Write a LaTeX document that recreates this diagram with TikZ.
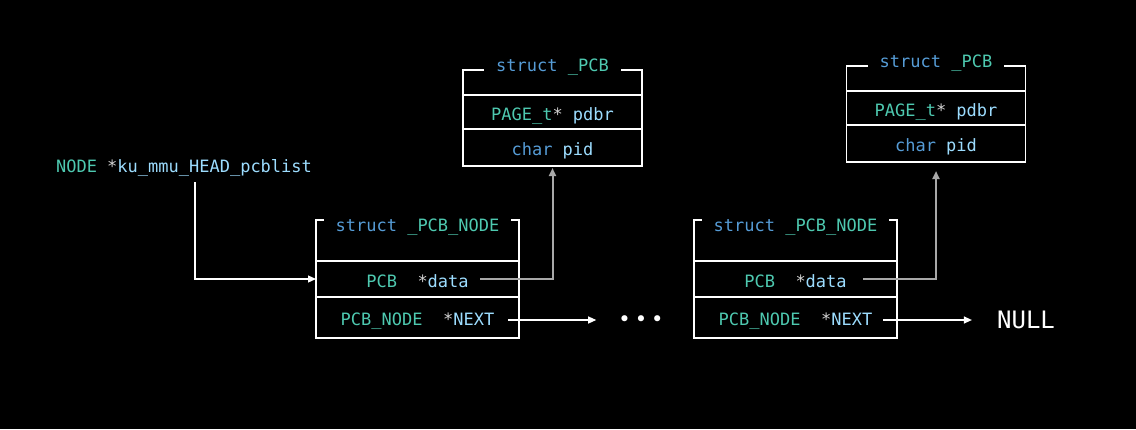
\documentclass[tikz,border=0pt]{standalone}
\usepackage{fontspec}
\setmonofont{DejaVu Sans Mono}
\newfontfamily\symfont{DejaVu Sans}
\usetikzlibrary{positioning,arrows.meta}
\definecolor{kw}{HTML}{569CD6}
\definecolor{ty}{HTML}{4EC9B0}
\definecolor{var}{HTML}{9CDCFE}
\definecolor{op}{HTML}{D4D4D4}
\definecolor{ptr}{HTML}{A8A8A8}
\tikzset{
  code/.style={font=\ttfamily\fontsize{17}{20}\selectfont, text=op, text height=16pt, text depth=0pt},
  row/.style={code, draw=white, line width=1.2pt, inner sep=0pt, outer sep=0pt, minimum height=#1},
  pcbrow/.style={row=#1, minimum width=179},
  noderow/.style={row=#1, minimum width=203},
  title/.style={code, fill=black, inner xsep=12pt, inner ysep=1pt},
}
\begin{document}
\begin{tikzpicture}[x=1pt,y=-1pt]
  \fill[black] (0,0) rectangle (1136,429);
  \node[code, inner sep=0pt] (head) at (184,164) {{\color{ty}NODE} *{\color{var}ku\_mmu\_HEAD\_pcblist}};
  \node[pcbrow=25] (pcbAhead) at (552.5,82.5) {};
  \node[pcbrow=34, below=0pt of pcbAhead] (pdbrA) {{\color{ty}PAGE\_t}* {\color{var}pdbr}};
  \node[pcbrow=37, below=0pt of pdbrA] (pidA) {{\color{kw}char} {\color{var}pid}};
  \node[title, yshift=6.5pt] (pcbAtitle) at (pcbAhead.north) {{\color{kw}struct} {\color{ty}\_PCB}};
  \node[pcbrow=25] (pcbBhead) at (936,78.5) {};
  \node[pcbrow=34, below=0pt of pcbBhead] (pdbrB) {{\color{ty}PAGE\_t}* {\color{var}pdbr}};
  \node[pcbrow=37, below=0pt of pdbrB] (pidB) {{\color{kw}char} {\color{var}pid}};
  \node[title, yshift=6.5pt] (pcbBtitle) at (pcbBhead.north) {{\color{kw}struct} {\color{ty}\_PCB}};
  \node[noderow=41] (nodeAhead) at (417.5,240.5) {};
  \node[noderow=36, below=0pt of nodeAhead] (dataA) {{\color{ty}PCB}\ \ *{\color{var}data}};
  \node[noderow=41, below=0pt of dataA] (nextA) {{\color{ty}PCB\_NODE}\ \ *{\color{var}NEXT}};
  \node[title, yshift=-3.5pt] (nodeAtitle) at (nodeAhead.north) {{\color{kw}struct} {\color{ty}\_PCB\_NODE}};
  \node[noderow=41] (nodeBhead) at (795.5,240.5) {};
  \node[noderow=36, below=0pt of nodeBhead] (dataB) {{\color{ty}PCB}\ \ *{\color{var}data}};
  \node[noderow=41, below=0pt of dataB] (nextB) {{\color{ty}PCB\_NODE}\ \ *{\color{var}NEXT}};
  \node[title, yshift=-3.5pt] (nodeBtitle) at (nodeBhead.north) {{\color{kw}struct} {\color{ty}\_PCB\_NODE}};
  \node[inner sep=0pt, text=white, font=\symfont\fontsize{21}{21}\selectfont] (dots) at (641,321) {•\hspace{4pt}•\hspace{4pt}•};
  \node[inner sep=0pt, text=white, font=\ttfamily\fontsize{24}{24}\selectfont] (null) at (1026,320) {NULL};
  \begin{scope}[-{Triangle[length=8pt,width=7pt]}, line width=1.2pt]
    \draw[white, shorten <=10pt] ([xshift=11pt]head.south) |- (dataA.west);
    \draw[white, shorten >=22pt] ([xshift=-11pt,yshift=-2.5pt]nextA.east) -- ([yshift=-2.5pt]nextA.east -| dots.west);
    \draw[white, shorten >=25pt] ([xshift=-14pt,yshift=-2.5pt]nextB.east) -- ([yshift=-2.5pt]nextB.east -| null.west);
    \draw[ptr, line width=2pt, shorten >=2pt] ([xshift=-39pt]dataA.east) -| (pidA.south);
    \draw[ptr, line width=2pt, shorten >=9pt] ([xshift=-34pt]dataB.east) -| (pidB.south);
  \end{scope}
\end{tikzpicture}
\end{document}
